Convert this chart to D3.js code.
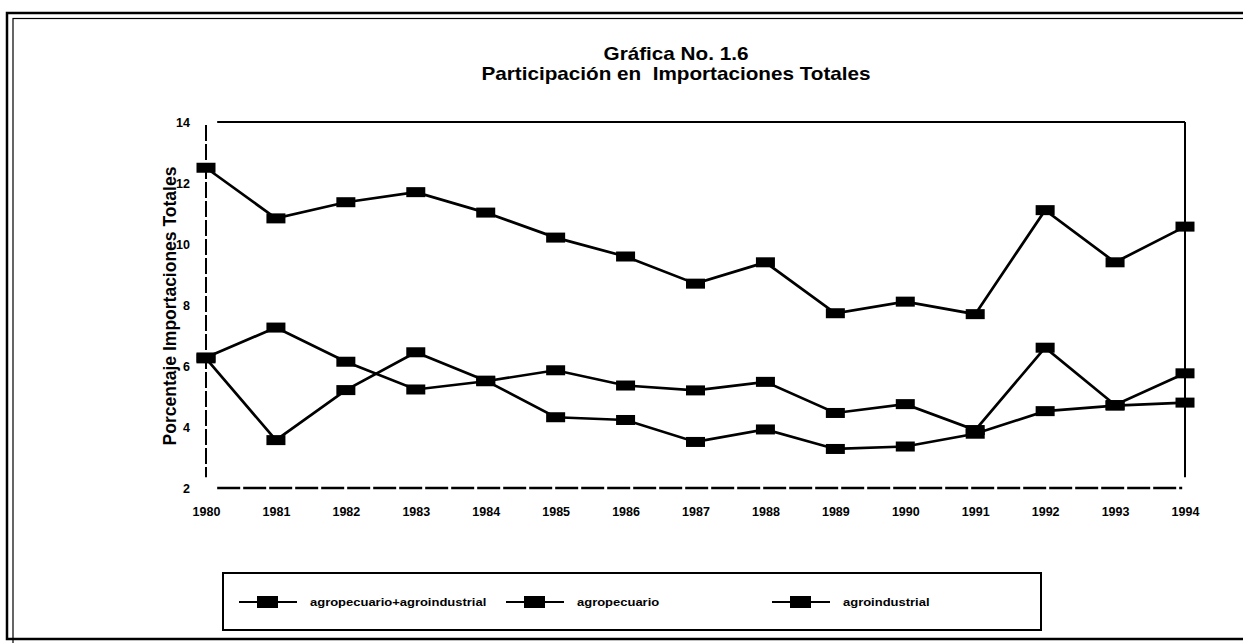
<!DOCTYPE html>
<html>
<head>
<meta charset="utf-8">
<script src="https://cdn.jsdelivr.net/npm/d3@7"></script>
<style>
	body { margin: 0; background: #fff; }
	text { font-family: "Liberation Sans", Arial, sans-serif; font-weight: bold; fill: #000; }
</style>
</head>
<body>
<div id="chart"></div>
<script>
// data
const years = [1980, 1981, 1982, 1983, 1984, 1985, 1986, 1987, 1988, 1989, 1990, 1991, 1992, 1993, 1994];
const totalValues = [12.5, 10.84, 11.37, 11.70, 11.03, 10.21, 9.59, 8.70, 9.40, 7.73, 8.11, 7.70, 11.11, 9.40, 10.57];
const agroValues = [6.28, 7.26, 6.14, 5.23, 5.5, 5.86, 5.36, 5.2, 5.48, 4.46, 4.75, 3.9, 6.6, 4.72, 5.76];
const industValues = [6.25, 3.57, 5.21, 6.45, 5.52, 4.32, 4.23, 3.51, 3.92, 3.28, 3.36, 3.78, 4.52, 4.7, 4.8];
const yTicks = [2, 4, 6, 8, 10, 12, 14];
const seriesNames = ["agropecuario+agroindustrial", "agropecuario", "agroindustrial"];

const titleLines = ["Gráfica No. 1.6", "Participación en  Importaciones Totales"];
const yLabel = "Porcentaje Importaciones Totales";

class Chart {

	constructor(){
		this.width = 1243;
		this.height = 643;
		this.stretch = 1.15;   // scan is wider than it is tall

		this.svg = d3.select("#chart").append("svg")
			.attr("width", this.width).attr("height", this.height);

		this.x = d3.scaleLinear().domain([1980, 1994]).range([206, 1185]);
		this.y = d3.scaleLinear().domain([2, 14]).range([488, 122]);
	}

	wideText(x, y, str, size, anchor){
		return this.svg.append("text")
			.attr("transform", "translate(" + x + "," + y + ") scale(" + this.stretch + ",1)")
			.attr("text-anchor", anchor || "middle")
			.style("font-size", size + "px")
			.style("white-space", "pre")
			.text(str);
	}

	addFrame(){
		this.svg.append("rect")
			.attr("x", 7).attr("y", 13).attr("width", 1260).attr("height", 626)
			.attr("fill", "none").attr("stroke", "#000").attr("stroke-width", 2.5);
		this.svg.append("rect")
			.attr("x", 13).attr("y", 18.5).attr("width", 1260).attr("height", 640)
			.attr("fill", "none").attr("stroke", "#000").attr("stroke-width", 1.2);
	}

	addTitle(){
		this.wideText(676, 60, titleLines[0], 18);
		this.wideText(676, 80, titleLines[1], 18);

		this.svg.append("text")
			.attr("transform", "translate(176,306) rotate(-90)")
			.attr("text-anchor", "middle")
			.style("font-size", "17.5px")
			.text(yLabel);
	}

	addAxes(){
		let x = this.x, y = this.y;

		// plot frame: dashed left/bottom, solid top/right
		this.svg.append("line")
			.attr("x1", x(1980)).attr("x2", x(1980)).attr("y1", y(13.9)).attr("y2", y(2.35))
			.attr("stroke", "#000").attr("stroke-width", 2).attr("stroke-dasharray", "16,3");
		this.svg.append("line")
			.attr("x1", x(1980.16)).attr("x2", x(1993.96)).attr("y1", y(2)).attr("y2", y(2))
			.attr("stroke", "#000").attr("stroke-width", 2.4).attr("stroke-dasharray", "23,3");
		this.svg.append("line")
			.attr("x1", x(1980.16)).attr("x2", x(1994)).attr("y1", y(14)).attr("y2", y(14))
			.attr("stroke", "#000").attr("stroke-width", 2);
		this.svg.append("line")
			.attr("x1", x(1994)).attr("x2", x(1994)).attr("y1", y(14)).attr("y2", y(2.35))
			.attr("stroke", "#000").attr("stroke-width", 2);

		let ya = this.svg.append("g")
			.attr("transform", "translate(" + x(1980) + ",0)")
			.call(d3.axisLeft(y).tickValues(yTicks).tickSize(0).tickPadding(16));
		ya.select(".domain").remove();
		ya.selectAll("text").style("font-size", "12.5px")
			.style("font-family", "'Liberation Sans', Arial, sans-serif").attr("font-weight", "bold");

		let xa = this.svg.append("g")
			.attr("transform", "translate(0," + y(2) + ")")
			.call(d3.axisBottom(x).tickValues(years).tickFormat(d3.format("d")).tickSize(0).tickPadding(19));
		xa.select(".domain").remove();
		xa.selectAll("text").style("font-size", "12.5px")
			.style("font-family", "'Liberation Sans', Arial, sans-serif").attr("font-weight", "bold");
	}

	addLine(values){
		let x = this.x, y = this.y;
		let line = d3.line().x((d, i) => x(years[i])).y(d => y(d));

		this.svg.append("path")
			.datum(values)
			.attr("d", line)
			.attr("fill", "none").attr("stroke", "#000").attr("stroke-width", 2.7)
			.attr("stroke-linejoin", "miter");

		this.svg.append("g").selectAll("rect")
			.data(values).enter().append("rect")
			.attr("x", (d, i) => x(years[i]) - 9.5)
			.attr("y", d => y(d) - 5)
			.attr("width", 19).attr("height", 10)
			.attr("fill", "#000");
	}

	addLegend(){
		this.svg.append("rect")
			.attr("x", 223).attr("y", 573).attr("width", 818).attr("height", 57)
			.attr("fill", "none").attr("stroke", "#000").attr("stroke-width", 2);

		let starts = [239, 506, 772];
		let cy = 602;
		seriesNames.forEach((name, i) => {
			let sx = starts[i];
			this.svg.append("line")
				.attr("x1", sx).attr("x2", sx + 58).attr("y1", cy).attr("y2", cy)
				.attr("stroke", "#000").attr("stroke-width", 2);
			this.svg.append("rect")
				.attr("x", sx + 18).attr("y", cy - 6).attr("width", 21).attr("height", 12)
				.attr("fill", "#000");
			this.wideText(sx + 71, cy + 4, name, 11.3, "start");
		});
	}
}

let chart = new Chart();
chart.addFrame();
chart.addTitle();
chart.addAxes();
chart.addLine(totalValues);
chart.addLine(agroValues);
chart.addLine(industValues);
chart.addLegend();
</script>
</body>
</html>
